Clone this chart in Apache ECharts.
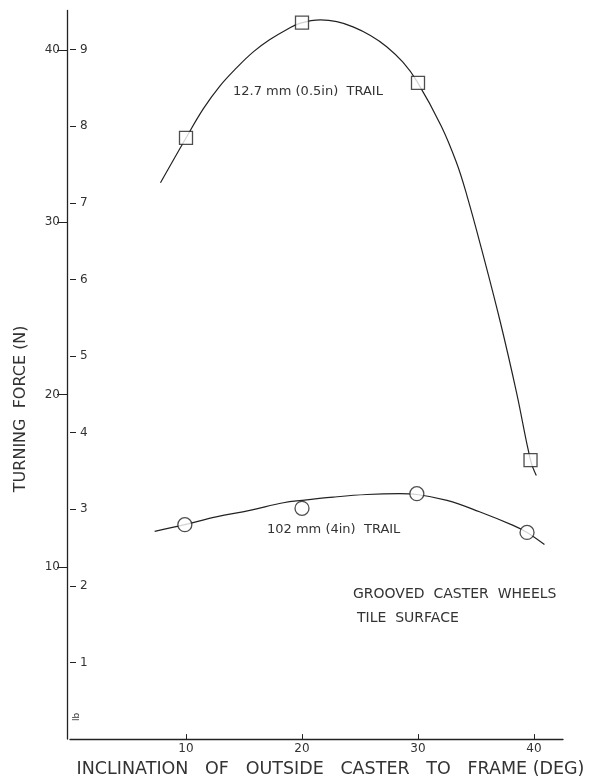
<!DOCTYPE html>
<html>
<head>
<meta charset="utf-8">
<script src="https://cdn.jsdelivr.net/npm/echarts@6/dist/echarts.min.js"></script>
<style>
html,body{margin:0;padding:0;background:#fff;}
#chart{width:589px;height:783px;}
</style>
</head>
<body>
<div id="chart"></div>
<script>
// ---- data ----
const xTicks = [10, 20, 30, 40];
const nTicks = [10, 20, 30, 40];
const lbTicks = [1, 2, 3, 4, 5, 6, 7, 8, 9];

// 12.7 mm (0.5 in) trail : measured points (squares)
const squareDeg   = [10, 20, 30, 39.7];
const squareForce = [34.9, 41.6, 38.1, 16.2];
// fitted curve as drawn
const squareCurveDeg   = [7.8, 10, 11.5, 12.9, 14.4, 15.8, 17.2, 18.7, 19.8, 21.6, 23.0, 24.4, 25.9, 27.3, 28.7, 29.9, 32.0, 33.3, 34.2, 35.5, 37.1, 38.5, 39.7, 40.2];
const squareCurveForce = [32.3, 34.9, 36.6, 37.9, 39.0, 39.9, 40.6, 41.2, 41.55, 41.75, 41.65, 41.35, 40.85, 40.2, 39.3, 38.2, 35.6, 33.5, 31.6, 28.4, 24.2, 20.1, 16.2, 15.3];

// 102 mm (4 in) trail : measured points (circles)
const circleDeg   = [9.9, 20, 29.9, 39.4];
const circleForce = [12.45, 13.4, 14.25, 12.0];
const circleCurveDeg   = [7.3, 9.9, 12.6, 15.5, 18.4, 20, 22.7, 25.6, 28.4, 29.9, 32.5, 35.3, 38.2, 39.4, 40.9];
const circleCurveForce = [12.06, 12.45, 12.9, 13.28, 13.72, 13.86, 14.05, 14.2, 14.25, 14.2, 13.86, 13.2, 12.41, 12.0, 11.3];

const N_PER_LB = 4.448;
const forceMax = 42.3;

const ink = '#222';
const txt = '#333';
const FONT = '"DejaVu Sans", sans-serif';

const zip = (a, b) => a.map((v, i) => [v, b[i]]);

const chart = echarts.init(document.getElementById('chart'), null, {renderer: 'canvas'});

chart.setOption({
  backgroundColor: '#fff',
  animation: false,
  grid: {left: 70, top: 10.5, right: 26, bottom: 42, containLabel: false},
  xAxis: {
    type: 'value', min: 0, max: 42.5, interval: 10,
    axisLine: {show: true, lineStyle: {color: ink, width: 1.3}},
    axisTick: {show: true, inside: true, length: 5, customValues: xTicks, lineStyle: {color: ink}},
    axisLabel: {
      color: txt, fontFamily: FONT, fontSize: 12, margin: 4, customValues: xTicks,
      formatter: v => String(v)
    },
    splitLine: {show: false},
    name: 'INCLINATION   OF   OUTSIDE   CASTER   TO   FRAME (DEG)',
    nameLocation: 'middle', nameGap: 19,
    nameTextStyle: {color: txt, fontFamily: FONT, fontSize: 17.5, padding: [0, 0, 0, 28]}
  },
  yAxis: [
    {
      type: 'value', min: 0, max: forceMax, interval: 10, position: 'left', offset: 3,
      axisLine: {show: true, onZero: false, lineStyle: {color: ink, width: 1.3}},
      axisTick: {show: true, inside: false, length: 10, customValues: nTicks, lineStyle: {color: ink}},
      axisLabel: {
        color: txt, fontFamily: FONT, fontSize: 12, margin: 7, customValues: nTicks,
        formatter: v => String(v)
      },
      splitLine: {show: false},
      name: 'TURNING  FORCE (N)',
      nameLocation: 'middle', nameGap: 38, nameRotate: 90,
      nameTextStyle: {color: txt, fontFamily: FONT, fontSize: 16, padding: [0, 68, 0, 0]}
    },
    {
      type: 'value', min: 0, max: forceMax / N_PER_LB, interval: 1, position: 'left', offset: 3,
      axisLine: {show: false},
      axisTick: {show: true, inside: true, length: 6, customValues: lbTicks, lineStyle: {color: ink}},
      axisLabel: {
        inside: true, color: txt, fontFamily: FONT, fontSize: 12, margin: 13, customValues: lbTicks,
        formatter: v => String(v)
      },
      splitLine: {show: false}
    }
  ],
  series: [
    {
      type: 'line', name: '12.7 mm curve', data: zip(squareCurveDeg, squareCurveForce),
      smooth: 0.4, showSymbol: false, symbol: 'none',
      lineStyle: {color: ink, width: 1.2}, z: 2
    },
    {
      type: 'line', name: '102 mm curve', data: zip(circleCurveDeg, circleCurveForce),
      smooth: 0.4, showSymbol: false, symbol: 'none',
      lineStyle: {color: ink, width: 1.2}, z: 2
    },
    {
      type: 'scatter', name: '12.7 mm (0.5in) TRAIL', data: zip(squareDeg, squareForce),
      symbol: 'rect', symbolSize: 13,
      itemStyle: {color: '#fff', borderColor: ink, borderWidth: 1.3}, z: 5
    },
    {
      type: 'scatter', name: '102 mm (4in) TRAIL', data: zip(circleDeg, circleForce),
      symbol: 'circle', symbolSize: 14,
      itemStyle: {color: '#fff', borderColor: ink, borderWidth: 1.3}, z: 5
    }
  ],
  graphic: [
    {type: 'text', x: 233, y: 92, style: {text: '12.7 mm (0.5in)  TRAIL', font: '13px ' + FONT, fill: txt, align: 'left', verticalAlign: 'middle'}},
    {type: 'text', x: 267, y: 530, style: {text: '102 mm (4in)  TRAIL', font: '13px ' + FONT, fill: txt, align: 'left', verticalAlign: 'middle'}},
    {type: 'text', x: 353, y: 594, style: {text: 'GROOVED  CASTER  WHEELS', font: '14px ' + FONT, fill: txt, align: 'left', verticalAlign: 'middle'}},
    {type: 'text', x: 357, y: 618, style: {text: 'TILE  SURFACE', font: '14px ' + FONT, fill: txt, align: 'left', verticalAlign: 'middle'}},
    {type: 'text', x: 77, y: 717, rotation: Math.PI / 2, style: {text: 'lb', font: '9px ' + FONT, fill: txt, align: 'center', verticalAlign: 'middle'}}
  ]
});
</script>
</body>
</html>
